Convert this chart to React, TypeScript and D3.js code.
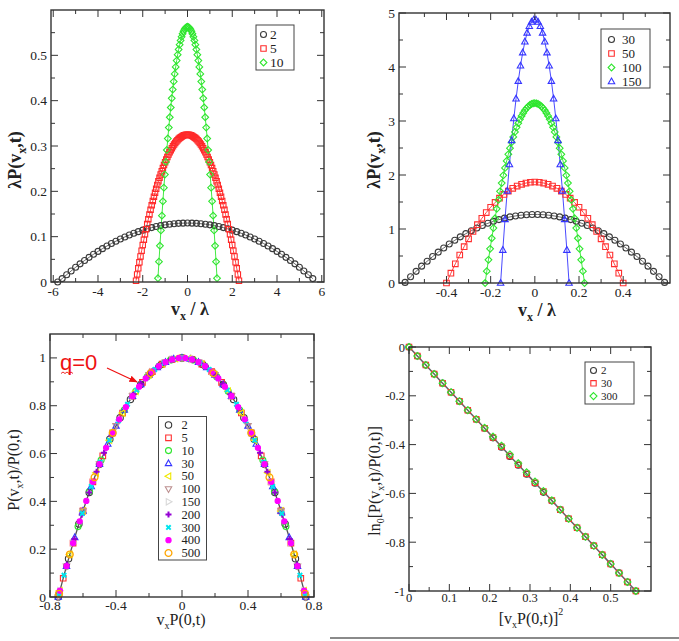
import React from "react";
import * as d3 from "d3";

type Pt = [number, number];

// ---------- Panel 1 (top-left): λP(vx,t) vs vx/λ ----------
const p1Labels = ["2", "5", "10"];
const p1S2: Pt[] = [[-5.8,0],[-5.6,.0075],[-5.4,.0161],[-5.2,.0244],[-5,.0324],[-4.8,.04],[-4.6,.0474],[-4.4,.0544],[-4.2,.0611],[-4,.0675],[-3.8,.0736],[-3.6,.0794],[-3.4,.0849],[-3.2,.09],[-3,.0948],[-2.8,.0994],[-2.6,.1036],[-2.4,.1075],[-2.2,.1111],[-2,.1144],[-1.8,.1173],[-1.6,.12],[-1.4,.1223],[-1.2,.1244],[-1,.1261],[-.8,.1275],[-.6,.1286],[-.4,.1294],[-.2,.1298],[0,.13],[.2,.1298],[.4,.1294],[.6,.1286],[.8,.1275],[1,.1261],[1.2,.1244],[1.4,.1223],[1.6,.12],[1.8,.1173],[2,.1144],[2.2,.1111],[2.4,.1075],[2.6,.1036],[2.8,.0994],[3,.0948],[3.2,.09],[3.4,.0849],[3.6,.0794],[3.8,.0736],[4,.0675],[4.2,.0611],[4.4,.0544],[4.6,.0474],[4.8,.04],[5,.0324],[5.2,.0244],[5.4,.0161],[5.6,.0075]];
const p1S5: Pt[] = [[-2.3,.0028],[-2.25,.0167],[-2.2,.0302],[-2.15,.0435],[-2.1,.0564],[-2.05,.069],[-2,.0814],[-1.95,.0934],[-1.9,.1051],[-1.85,.1165],[-1.8,.1277],[-1.75,.1385],[-1.7,.149],[-1.65,.1592],[-1.6,.1691],[-1.55,.1787],[-1.5,.188],[-1.45,.197],[-1.4,.2056],[-1.35,.214],[-1.3,.2221],[-1.25,.2298],[-1.2,.2373],[-1.15,.2445],[-1.1,.2513],[-1.05,.2579],[-1,.2641],[-.95,.27],[-.9,.2757],[-.85,.281],[-.8,.286],[-.75,.2907],[-.7,.2952],[-.65,.2993],[-.6,.3031],[-.55,.3066],[-.5,.3098],[-.45,.3127],[-.4,.3153],[-.35,.3175],[-.3,.3195],[-.25,.3212],[-.2,.3226],[-.15,.3236],[-.1,.3244],[-.05,.3248],[0,.325],[.05,.3248],[.1,.3244],[.15,.3236],[.2,.3226],[.25,.3212],[.3,.3195],[.35,.3175],[.4,.3153],[.45,.3127],[.5,.3098],[.55,.3066],[.6,.3031],[.65,.2993],[.7,.2952],[.75,.2907],[.8,.286],[.85,.281],[.9,.2757],[.95,.27],[1,.2641],[1.05,.2579],[1.1,.2513],[1.15,.2445],[1.2,.2373],[1.25,.2298],[1.3,.2221],[1.35,.214],[1.4,.2056],[1.45,.197],[1.5,.188],[1.55,.1787],[1.6,.1691],[1.65,.1592],[1.7,.149],[1.75,.1385],[1.8,.1277],[1.85,.1165],[1.9,.1051],[1.95,.0934],[2,.0814],[2.05,.069],[2.1,.0564],[2.15,.0435],[2.2,.0302],[2.25,.0167],[2.3,.0028]];
const p1S10: Pt[] = [[-1.32,.0084],[-1.276,.0448],[-1.232,.0799],[-1.188,.1138],[-1.144,.1464],[-1.1,.1779],[-1.056,.2081],[-1.012,.237],[-.968,.2648],[-.924,.2912],[-.88,.3165],[-.836,.3406],[-.792,.3634],[-.748,.3849],[-.704,.4053],[-.66,.4244],[-.616,.4422],[-.572,.4589],[-.528,.4743],[-.484,.4884],[-.44,.5014],[-.396,.5131],[-.352,.5236],[-.308,.5328],[-.264,.5408],[-.22,.5476],[-.176,.5531],[-.132,.5575],[-.088,.5605],[-.044,.5624],[0,.563],[.044,.5624],[.088,.5605],[.132,.5575],[.176,.5531],[.22,.5476],[.264,.5408],[.308,.5328],[.352,.5236],[.396,.5131],[.44,.5014],[.484,.4884],[.528,.4743],[.572,.4589],[.616,.4422],[.66,.4244],[.704,.4053],[.748,.3849],[.792,.3634],[.836,.3406],[.88,.3165],[.924,.2912],[.968,.2648],[1.012,.237],[1.056,.2081],[1.1,.1779],[1.144,.1464],[1.188,.1138],[1.232,.0799],[1.276,.0448],[1.32,.0084]];
const p1XMajor = [-6, -4, -2, 0, 2, 4, 6];
const p1XMinor = [-5, -3, -1, 1, 3, 5];
const p1YMajor = [0, 0.1, 0.2, 0.3, 0.4, 0.5];
const p1YMinor = [0.05, 0.15, 0.25, 0.35, 0.45, 0.55];

// ---------- Panel 2 (top-right) ----------
const p2Labels = ["30", "50", "100", "150"];
const p2S30: Pt[] = [[-.5875,.0107],[-.5625,.1156],[-.5375,.216],[-.5125,.3117],[-.4875,.4029],[-.4625,.4896],[-.4375,.5717],[-.4125,.6492],[-.3875,.7222],[-.3625,.7906],[-.3375,.8544],[-.3125,.9137],[-.2875,.9684],[-.2625,1.0186],[-.2375,1.0642],[-.2125,1.1053],[-.1875,1.1417],[-.1625,1.1737],[-.1375,1.201],[-.1125,1.2238],[-.0875,1.2421],[-.0625,1.2557],[-.0375,1.2649],[-.0125,1.2694],[.0125,1.2694],[.0375,1.2649],[.0625,1.2557],[.0875,1.2421],[.1125,1.2238],[.1375,1.201],[.1625,1.1737],[.1875,1.1417],[.2125,1.1053],[.2375,1.0642],[.2625,1.0186],[.2875,.9684],[.3125,.9137],[.3375,.8544],[.3625,.7906],[.3875,.7222],[.4125,.6492],[.4375,.5717],[.4625,.4896],[.4875,.4029],[.5125,.3117],[.5375,.216],[.5625,.1156],[.5875,.0107]];
const p2S50: Pt[] = [[-.4,0],[-.38,.1823],[-.36,.3553],[-.34,.5189],[-.32,.6732],[-.3,.8181],[-.28,.9537],[-.26,1.0799],[-.24,1.1968],[-.22,1.3043],[-.2,1.4025],[-.18,1.4913],[-.16,1.5708],[-.14,1.6409],[-.12,1.7017],[-.1,1.7531],[-.08,1.7952],[-.06,1.8279],[-.04,1.8513],[-.02,1.8653],[0,1.87],[.02,1.8653],[.04,1.8513],[.06,1.8279],[.08,1.7952],[.1,1.7531],[.12,1.7017],[.14,1.6409],[.16,1.5708],[.18,1.4913],[.2,1.4025],[.22,1.3043],[.24,1.1968],[.26,1.0799],[.28,.9537],[.3,.8181],[.32,.6732],[.34,.5189],[.36,.3553],[.38,.1823],[.4,0]];
const p2S100: Pt[] = [[-.225,0],[-.2175,.2183],[-.21,.4292],[-.2025,.6327],[-.195,.8288],[-.1875,1.0175],[-.18,1.1988],[-.1725,1.3727],[-.165,1.5392],[-.1575,1.6983],[-.15,1.85],[-.1425,1.9943],[-.135,2.1312],[-.1275,2.2607],[-.12,2.3828],[-.1125,2.4975],[-.105,2.6048],[-.0975,2.7047],[-.09,2.7972],[-.0825,2.8823],[-.075,2.96],[-.0675,3.0303],[-.06,3.0932],[-.0525,3.1487],[-.045,3.1968],[-.0375,3.2375],[-.03,3.2708],[-.0225,3.2967],[-.015,3.3152],[-.0075,3.3263],[0,3.33],[.0075,3.3263],[.015,3.3152],[.0225,3.2967],[.03,3.2708],[.0375,3.2375],[.045,3.1968],[.0525,3.1487],[.06,3.0932],[.0675,3.0303],[.075,2.96],[.0825,2.8823],[.09,2.7972],[.0975,2.7047],[.105,2.6048],[.1125,2.4975],[.12,2.3828],[.1275,2.2607],[.135,2.1312],[.1425,1.9943],[.15,1.85],[.1575,1.6983],[.165,1.5392],[.1725,1.3727],[.18,1.1988],[.1875,1.0175],[.195,.8288],[.2025,.6327],[.21,.4292],[.2175,.2183],[.225,0]];
const p2S150: Pt[] = [[-.155,0],[-.145,.6094],[-.135,1.1781],[-.125,1.7062],[-.115,2.1937],[-.105,2.6406],[-.095,3.0468],[-.085,3.4124],[-.075,3.7374],[-.065,4.0218],[-.055,4.2656],[-.045,4.4687],[-.035,4.6312],[-.025,4.7531],[-.015,4.8343],[-.005,4.8749],[.005,4.8749],[.015,4.8343],[.025,4.7531],[.035,4.6312],[.045,4.4687],[.055,4.2656],[.065,4.0218],[.075,3.7374],[.085,3.4124],[.095,3.0468],[.105,2.6406],[.115,2.1937],[.125,1.7062],[.135,1.1781],[.145,.6094],[.155,0]];
const p2XMajor = [-0.4, -0.2, 0, 0.2, 0.4];
const p2XMinor = [-0.5, -0.3, -0.1, 0.1, 0.3, 0.5];
const p2YMajor = [0, 1, 2, 3, 4, 5];
const p2YMinor = [0.5, 1.5, 2.5, 3.5, 4.5];

// ---------- Panel 3 (bottom-left): scaled collapse ----------
const p3Labels = ["2", "5", "10", "30", "50", "100", "150", "200", "300", "400", "500"];
const p3S2: Pt[] = [[-.75,0],[-.6875,.1597],[-.625,.3056],[-.5625,.4375],[-.5,.5556],[-.4375,.6597],[-.375,.75],[-.3125,.8264],[-.25,.8889],[-.1875,.9375],[-.125,.9722],[-.0625,.9931],[0,1],[.0625,.9931],[.125,.9722],[.1875,.9375],[.25,.8889],[.3125,.8264],[.375,.75],[.4375,.6597],[.5,.5556],[.5625,.4375],[.625,.3056],[.6875,.1597],[.75,0]];
const p3S5: Pt[] = [[-.745,.0133],[-.72,.0784],[-.66,.2256],[-.6,.36],[-.54,.4816],[-.48,.5904],[-.42,.6864],[-.36,.7696],[-.3,.84],[-.24,.8976],[-.18,.9424],[-.12,.9744],[-.06,.9936],[0,1],[.06,.9936],[.12,.9744],[.18,.9424],[.24,.8976],[.3,.84],[.36,.7696],[.42,.6864],[.48,.5904],[.54,.4816],[.6,.36],[.66,.2256],[.72,.0784],[.745,.0133]];
const p3S10: Pt[] = [[-.745,.0133],[-.7,.1289],[-.63,.2944],[-.56,.4425],[-.49,.5732],[-.42,.6864],[-.35,.7822],[-.28,.8606],[-.21,.9216],[-.14,.9652],[-.07,.9913],[0,1],[.07,.9913],[.14,.9652],[.21,.9216],[.28,.8606],[.35,.7822],[.42,.6864],[.49,.5732],[.56,.4425],[.63,.2944],[.7,.1289],[.745,.0133]];
const p3S30: Pt[] = [[-.75,0],[-.7,.1289],[-.65,.2489],[-.6,.36],[-.55,.4622],[-.5,.5556],[-.45,.64],[-.4,.7156],[-.35,.7822],[-.3,.84],[-.25,.8889],[-.2,.9289],[-.15,.96],[-.1,.9822],[-.05,.9956],[0,1],[.05,.9956],[.1,.9822],[.15,.96],[.2,.9289],[.25,.8889],[.3,.84],[.35,.7822],[.4,.7156],[.45,.64],[.5,.5556],[.55,.4622],[.6,.36],[.65,.2489],[.7,.1289],[.75,0]];
const p3S50: Pt[] = [[-.74,.0265],[-.68,.178],[-.6,.36],[-.52,.5193],[-.44,.6558],[-.36,.7696],[-.28,.8606],[-.2,.9289],[-.12,.9744],[-.04,.9972],[.04,.9972],[.12,.9744],[.2,.9289],[.28,.8606],[.36,.7696],[.44,.6558],[.52,.5193],[.6,.36],[.68,.178],[.74,.0265]];
const p3S100: Pt[] = [[-.75,0],[-.7,.1289],[-.6,.36],[-.5,.5556],[-.4,.7156],[-.3,.84],[-.2,.9289],[-.1,.9822],[0,1],[.1,.9822],[.2,.9289],[.3,.84],[.4,.7156],[.5,.5556],[.6,.36],[.7,.1289],[.75,0]];
const p3S150: Pt[] = [[-.74,.0265],[-.66,.2256],[-.54,.4816],[-.42,.6864],[-.3,.84],[-.18,.9424],[-.06,.9936],[.06,.9936],[.18,.9424],[.3,.84],[.42,.6864],[.54,.4816],[.66,.2256],[.74,.0265]];
const p3S200: Pt[] = [[-.7425,.0199],[-.6975,.1351],[-.6525,.2431],[-.6075,.3439],[-.5625,.4375],[-.5175,.5239],[-.4725,.6031],[-.4275,.6751],[-.3825,.7399],[-.3375,.7975],[-.2925,.8479],[-.2475,.8911],[-.2025,.9271],[-.1575,.9559],[-.1125,.9775],[-.0675,.9919],[-.0225,.9991],[.0225,.9991],[.0675,.9919],[.1125,.9775],[.1575,.9559],[.2025,.9271],[.2475,.8911],[.2925,.8479],[.3375,.7975],[.3825,.7399],[.4275,.6751],[.4725,.6031],[.5175,.5239],[.5625,.4375],[.6075,.3439],[.6525,.2431],[.6975,.1351],[.7425,.0199]];
const p3S300: Pt[] = [[-.745,.0133],[-.715,.0911],[-.66,.2256],[-.605,.3493],[-.55,.4622],[-.495,.5644],[-.44,.6558],[-.385,.7365],[-.33,.8064],[-.275,.8656],[-.22,.914],[-.165,.9516],[-.11,.9785],[-.055,.9946],[0,1],[.055,.9946],[.11,.9785],[.165,.9516],[.22,.914],[.275,.8656],[.33,.8064],[.385,.7365],[.44,.6558],[.495,.5644],[.55,.4622],[.605,.3493],[.66,.2256],[.715,.0911],[.745,.0133]];
const p3S400: Pt[] = [[-.74,.0265],[-.7,.1289],[-.66,.2256],[-.62,.3166],[-.58,.402],[-.54,.4816],[-.5,.5556],[-.46,.6238],[-.42,.6864],[-.38,.7433],[-.34,.7945],[-.3,.84],[-.26,.8798],[-.22,.914],[-.18,.9424],[-.14,.9652],[-.1,.9822],[-.06,.9936],[-.02,.9993],[.02,.9993],[.06,.9936],[.1,.9822],[.14,.9652],[.18,.9424],[.22,.914],[.26,.8798],[.3,.84],[.34,.7945],[.38,.7433],[.42,.6864],[.46,.6238],[.5,.5556],[.54,.4816],[.58,.402],[.62,.3166],[.66,.2256],[.7,.1289],[.74,.0265]];
const p3S500: Pt[] = [[-.745,.0133],[-.68,.178],[-.53,.5006],[-.42,.6864],[-.19,.9358],[.19,.9358],[.42,.6864],[.53,.5006],[.68,.178],[.745,.0133]];
const p3XMajor = [-0.8, -0.4, 0, 0.4, 0.8];
const p3XMinor = [-0.6, -0.2, 0.2, 0.6];
const p3YMajor = [0, 0.2, 0.4, 0.6, 0.8, 1];
const p3YMinor = [0.1, 0.3, 0.5, 0.7, 0.9];

// ---------- Panel 4 (bottom-right): ln_0 linearisation ----------
const p4Labels = ["2", "30", "300"];
const p4X = [0,.0208,.0417,.0625,.0833,.1042,.125,.1458,.1667,.1875,.2083,.2292,.25,.2708,.2917,.3125,.3333,.3542,.375,.3958,.4167,.4375,.4583,.4792,.5,.5208,.5417,.5625];
const p4Y2 = [0,-.037,-.0741,-.1111,-.1481,-.1852,-.2222,-.2593,-.2963,-.3333,-.3724,-.4104,-.4484,-.4845,-.5215,-.5586,-.5956,-.6306,-.6667,-.7037,-.7407,-.7778,-.8148,-.8519,-.8889,-.9259,-.963,-1];
const p4Y30 = [0,-.037,-.0741,-.1111,-.1481,-.1852,-.2222,-.2593,-.2963,-.3333,-.3704,-.4084,-.4464,-.4825,-.5195,-.5566,-.5926,-.6296,-.6667,-.7037,-.7407,-.7778,-.8148,-.8519,-.8889,-.9259,-.963,-1];
const p4Y300 = [0,-.037,-.0741,-.1111,-.1481,-.1852,-.2222,-.2593,-.2963,-.3313,-.3674,-.4044,-.4404,-.4765,-.5135,-.5516,-.5906,-.6286,-.6667,-.7037,-.7407,-.7778,-.8148,-.8519,-.8889,-.9259,-.963,-1];
const p4XMajor = [0, 0.1, 0.2, 0.3, 0.4, 0.5];
const p4XMinor = [0.05, 0.15, 0.25, 0.35, 0.45, 0.55];
const p4YMajor = [0, -0.2, -0.4, -0.6, -0.8, -1];
const p4YMinor = [-0.1, -0.3, -0.5, -0.7, -0.9];

// ---------- helpers ----------
const SERIF = "Liberation Serif, Times New Roman, serif";
const SANS = "Liberation Sans, Arial, sans-serif";

function symPath(sym: string, r: number): string {
  switch (sym) {
    case "circle":
    case "dot":
      return `M${r},0A${r},${r} 0 1,1 ${-r},0A${r},${r} 0 1,1 ${r},0Z`;
    case "square":
      return `M${-r},${-r}h${2 * r}v${2 * r}h${-2 * r}Z`;
    case "diamond": {
      const a = r * 1.3;
      return `M0,${-a}L${a},0L0,${a}L${-a},0Z`;
    }
    case "triUp":
      return `M0,${-r * 1.25}L${r * 1.15},${r * 0.8}L${-r * 1.15},${r * 0.8}Z`;
    case "triDown":
      return `M0,${r * 1.25}L${r * 1.15},${-r * 0.8}L${-r * 1.15},${-r * 0.8}Z`;
    case "triLeft":
      return `M${-r * 1.25},0L${r * 0.8},${r * 1.15}L${r * 0.8},${-r * 1.15}Z`;
    case "triRight":
      return `M${r * 1.25},0L${-r * 0.8},${r * 1.15}L${-r * 0.8},${-r * 1.15}Z`;
    case "plus":
      return `M${-r},0H${r}M0,${-r}V${r}`;
    case "cross":
      return `M${-r},${-r}L${r},${r}M${-r},${r}L${r},${-r}`;
    default:
      return "";
  }
}

interface Series {
  label: string;
  data: Pt[];
  color: string;
  sym: string;
  r: number;
  sw?: number;
  filled?: boolean;
  line?: string;
}

interface LegendSpec {
  x0: number; y0: number; x1: number; y1: number;
  rows: number[]; mx: number; tx: number; fs: number;
}

interface PanelProps {
  f: { l: number; r: number; t: number; b: number };
  xd: [number, number];
  yd: [number, number];
  xMaj: number[]; xMin: number[]; yMaj: number[]; yMin: number[];
  series: Series[];
  legend: LegendSpec;
  fit?: { data: Pt[]; color: string; width: number };
  fs?: number;
  xlDy: number;
}

function Marker({ s, x, y }: { s: Series; x: number; y: number }) {
  const fill = s.filled ? s.color : "none";
  return (
    <path
      d={symPath(s.sym, s.r)}
      transform={`translate(${x},${y})`}
      fill={fill}
      stroke={s.color}
      strokeWidth={s.sw ?? 1.1}
    />
  );
}

function Panel(p: PanelProps) {
  const { f } = p;
  const x = d3.scaleLinear().domain(p.xd).range([f.l, f.r]);
  const y = d3.scaleLinear().domain(p.yd).range([f.b, f.t]);
  const line = d3.line<Pt>().x((d) => x(d[0])).y((d) => y(d[1]));
  const fitLine = d3
    .line<Pt>()
    .x((d) => x(d[0]))
    .y((d) => y(d[1]))
    .curve(d3.curveCatmullRom);
  const fs = p.fs ?? 13.5;
  const MJ = 7, MN = 4;
  const tc = "#333";
  const txt = { fontFamily: SERIF };
  return (
    <g>
      {p.fit && (
        <path d={fitLine(p.fit.data) || ""} fill="none" stroke={p.fit.color} strokeWidth={p.fit.width} />
      )}
      {p.series.map((s) =>
        s.line ? (
          <path key={"l" + s.label} d={line(s.data) || ""} fill="none" stroke={s.line} strokeWidth={0.9} />
        ) : null
      )}
      {p.series.map((s) => (
        <g key={"m" + s.label}>
          {s.data.map((d, i) => (
            <Marker key={i} s={s} x={x(d[0])} y={y(d[1])} />
          ))}
        </g>
      ))}
      <rect x={f.l} y={f.t} width={f.r - f.l} height={f.b - f.t} fill="none" stroke={tc} strokeWidth={1.4} />
      {p.xMaj.map((v) => (
        <g key={"xM" + v}>
          <line x1={x(v)} x2={x(v)} y1={f.b} y2={f.b - MJ} stroke={tc} strokeWidth={1} />
          <line x1={x(v)} x2={x(v)} y1={f.t} y2={f.t + MJ} stroke={tc} strokeWidth={1} />
          <text x={x(v)} y={f.b + p.xlDy} textAnchor="middle" fontSize={fs} style={txt} fill="#222">
            {String(v)}
          </text>
        </g>
      ))}
      {p.xMin.map((v) => (
        <g key={"xm" + v}>
          <line x1={x(v)} x2={x(v)} y1={f.b} y2={f.b - MN} stroke={tc} strokeWidth={1} />
          <line x1={x(v)} x2={x(v)} y1={f.t} y2={f.t + MN} stroke={tc} strokeWidth={1} />
        </g>
      ))}
      {p.yMaj.map((v) => (
        <g key={"yM" + v}>
          <line x1={f.l} x2={f.l + MJ} y1={y(v)} y2={y(v)} stroke={tc} strokeWidth={1} />
          <line x1={f.r} x2={f.r - MJ} y1={y(v)} y2={y(v)} stroke={tc} strokeWidth={1} />
          <text x={f.l - 4} y={y(v) + 4.5} textAnchor="end" fontSize={fs} style={txt} fill="#222">
            {String(v)}
          </text>
        </g>
      ))}
      {p.yMin.map((v) => (
        <g key={"ym" + v}>
          <line x1={f.l} x2={f.l + MN} y1={y(v)} y2={y(v)} stroke={tc} strokeWidth={1} />
          <line x1={f.r} x2={f.r - MN} y1={y(v)} y2={y(v)} stroke={tc} strokeWidth={1} />
        </g>
      ))}
      <rect
        x={p.legend.x0}
        y={p.legend.y0}
        width={p.legend.x1 - p.legend.x0}
        height={p.legend.y1 - p.legend.y0}
        fill="white"
        stroke="#444"
        strokeWidth={1}
      />
      {p.series.map((s, i) => (
        <g key={"lg" + s.label}>
          <Marker s={s} x={p.legend.mx} y={p.legend.rows[i]} />
          <text
            x={p.legend.tx}
            y={p.legend.rows[i] + p.legend.fs * 0.33}
            fontSize={p.legend.fs}
            style={txt}
            fill="#222"
          >
            {s.label}
          </text>
        </g>
      ))}
    </g>
  );
}

function rows(start: number, step: number, n: number): number[] {
  return d3.range(n).map((i) => start + i * step);
}

export default function App() {
  const p1Series: Series[] = [
    { label: p1Labels[0], data: p1S2, color: "#3a3a3a", sym: "circle", r: 3, line: "#555" },
    { label: p1Labels[1], data: p1S5, color: "#ff2a2a", sym: "square", r: 2.7, line: "#ff2a2a" },
    { label: p1Labels[2], data: p1S10, color: "#2ee62e", sym: "diamond", r: 2.6, line: "#2ee62e" },
  ];
  const p2Series: Series[] = [
    { label: p2Labels[0], data: p2S30, color: "#3a3a3a", sym: "circle", r: 3, line: "#555" },
    { label: p2Labels[1], data: p2S50, color: "#ff3030", sym: "square", r: 2.8, line: "#ff3030" },
    { label: p2Labels[2], data: p2S100, color: "#2ee62e", sym: "diamond", r: 2.6, line: "#2ee62e" },
    { label: p2Labels[3], data: p2S150, color: "#3535ff", sym: "triUp", r: 2.8, line: "#3535ff" },
  ];
  const p3Series: Series[] = [
    { label: p3Labels[0], data: p3S2, color: "#3a3a3a", sym: "circle", r: 3.2 },
    { label: p3Labels[1], data: p3S5, color: "#ff3030", sym: "square", r: 2.8 },
    { label: p3Labels[2], data: p3S10, color: "#2ee62e", sym: "circle", r: 3 },
    { label: p3Labels[3], data: p3S30, color: "#3535ff", sym: "triUp", r: 2.8 },
    { label: p3Labels[4], data: p3S50, color: "#f0e800", sym: "triLeft", r: 2.8 },
    { label: p3Labels[5], data: p3S100, color: "#bc8f8f", sym: "triDown", r: 2.8 },
    { label: p3Labels[6], data: p3S150, color: "#d8d8d8", sym: "triRight", r: 2.8 },
    { label: p3Labels[7], data: p3S200, color: "#9400d3", sym: "plus", r: 3, sw: 2 },
    { label: p3Labels[8], data: p3S300, color: "#00e5ee", sym: "cross", r: 2.2, sw: 2 },
    { label: p3Labels[9], data: p3S400, color: "#ff00ff", sym: "dot", r: 2.6, filled: true },
    { label: p3Labels[10], data: p3S500, color: "#ffa500", sym: "circle", r: 3.4, sw: 1.3 },
  ];
  const p4S2: Pt[] = p4X.map((v, i) => [v, p4Y2[i]]);
  const p4S30: Pt[] = p4X.map((v, i) => [v, p4Y30[i]]);
  const p4S300: Pt[] = p4X.map((v, i) => [v, p4Y300[i]]);
  const p4Series: Series[] = [
    { label: p4Labels[0], data: p4S2, color: "#3a3a3a", sym: "circle", r: 3 },
    { label: p4Labels[1], data: p4S30, color: "#ff3030", sym: "square", r: 2.7 },
    { label: p4Labels[2], data: p4S300, color: "#2ee62e", sym: "diamond", r: 2.7 },
  ];

  const serif = { fontFamily: SERIF };

  return (
    <svg
      width={679}
      height={641}
      style={{ position: "absolute", left: 0, top: 0, background: "white", fontFamily: SERIF }}
    >
      <rect x={0} y={0} width={679} height={641} fill="white" />
      <Panel
        f={{ l: 51, r: 324, t: 10, b: 282 }}
        xd={[-6.1, 6.1]}
        yd={[0, 0.6]}
        xMaj={p1XMajor}
        xMin={p1XMinor}
        yMaj={p1YMajor}
        yMin={p1YMinor}
        series={p1Series}
        xlDy={14}
        legend={{ x0: 256, y0: 25, x1: 294, y1: 70, rows: rows(34.5, 14, 3), mx: 263.5, tx: 270, fs: 13.5 }}
      />
      <Panel
        f={{ l: 399, r: 670, t: 13, b: 283 }}
        xd={[-0.615, 0.612]}
        yd={[0, 5]}
        xMaj={p2XMajor}
        xMin={p2XMinor}
        yMaj={p2YMajor}
        yMin={p2YMinor}
        series={p2Series}
        xlDy={14}
        legend={{ x0: 601, y0: 29, x1: 650, y1: 88, rows: rows(39.5, 14, 4), mx: 611.5, tx: 622, fs: 13 }}
      />
      <Panel
        f={{ l: 50, r: 314, t: 334, b: 597 }}
        xd={[-0.8, 0.8]}
        yd={[0, 1.1]}
        xMaj={p3XMajor}
        xMin={p3XMinor}
        yMaj={p3YMajor}
        yMin={p3YMinor}
        series={p3Series}
        xlDy={12.5}
        fit={{ data: p3S30, color: "#555", width: 1.3 }}
        legend={{ x0: 158.5, y0: 416.5, x1: 206.5, y1: 560, rows: rows(425, 12.8, 11), mx: 168.5, tx: 181.5, fs: 12.5 }}
      />
      <Panel
        f={{ l: 409, r: 651, t: 347, b: 591 }}
        xd={[0, 0.6]}
        yd={[-1, 0]}
        xMaj={p4XMajor}
        xMin={p4XMinor}
        yMaj={p4YMajor}
        yMin={p4YMinor}
        series={p4Series}
        xlDy={10.5}
        fs={12.5}
        fit={{ data: p4S30, color: "#666", width: 1.5 }}
        legend={{ x0: 585, y0: 362, x1: 634, y1: 404, rows: rows(370.5, 12.8, 3), mx: 593.5, tx: 601, fs: 11 }}
      />

      {/* axis titles */}
      <text x={190} y={315} textAnchor="middle" fontSize={18} fontWeight="bold" fill="#222" style={serif}>
        v<tspan fontSize={12} dy={5}>x</tspan>
        <tspan dy={-5}> / λ</tspan>
      </text>
      <text transform="translate(21,160) rotate(-90)" textAnchor="middle" fontSize={18} fontWeight="bold" fill="#222" style={serif}>
        λP(v<tspan fontSize={12} dy={5}>x</tspan>
        <tspan dy={-5}>,t)</tspan>
      </text>
      <text x={537} y={316} textAnchor="middle" fontSize={18} fontWeight="bold" fill="#222" style={serif}>
        v<tspan fontSize={12} dy={5}>x</tspan>
        <tspan dy={-5}> / λ</tspan>
      </text>
      <text transform="translate(380,160) rotate(-90)" textAnchor="middle" fontSize={18} fontWeight="bold" fill="#222" style={serif}>
        λP(v<tspan fontSize={12} dy={5}>x</tspan>
        <tspan dy={-5}>,t)</tspan>
      </text>
      <text transform="translate(19,470) rotate(-90)" textAnchor="middle" fontSize={16} fill="#222" style={serif}>
        P(v<tspan fontSize={10} dy={4}>x</tspan>
        <tspan dy={-4}>,t)/P(0,t)</tspan>
      </text>
      <text x={181} y={625} textAnchor="middle" fontSize={16} fill="#222" style={serif}>
        v<tspan fontSize={10} dy={4}>x</tspan>
        <tspan dy={-4}>P(0,t)</tspan>
      </text>
      <text transform="translate(380,481) rotate(-90)" textAnchor="middle" fontSize={16} fill="#222" style={serif}>
        ln<tspan fontSize={10} dy={4}>0</tspan>
        <tspan dy={-4}>[P(v</tspan>
        <tspan fontSize={10} dy={4}>x</tspan>
        <tspan dy={-4}>,t)/P(0,t)]</tspan>
      </text>
      <text x={531} y={624} textAnchor="middle" fontSize={16} fill="#222" style={serif}>
        [v<tspan fontSize={10} dy={4}>x</tspan>
        <tspan dy={-4}>P(0,t)]</tspan>
        <tspan fontSize={10} dy={-9}>2</tspan>
      </text>

      {/* q=0 annotation */}
      <text x={60} y={370} fontSize={22} fill="#ee1111" style={{ fontFamily: SANS }}>q=0</text>
      <path d="M61,373.5 l2,-1.5 l2,1.5 l2,-1.5 l2,1.5 l2,-1.5 l2,1.5" fill="none" stroke="#ee1111" strokeWidth={0.9} />
      <defs>
        <marker id="arr" viewBox="0 0 10 10" refX={9} refY={5} markerWidth={7} markerHeight={7} orient="auto">
          <path d="M0,1L10,5L0,9Z" fill="#ee1111" />
        </marker>
      </defs>
      <line x1={107} y1={368} x2={137} y2={382} stroke="#ee1111" strokeWidth={1.2} markerEnd="url(#arr)" />

      {/* bottom separator */}
      <line x1={330} y1={638} x2={679} y2={638} stroke="#8a8a8a" strokeWidth={2} />
    </svg>
  );
}
